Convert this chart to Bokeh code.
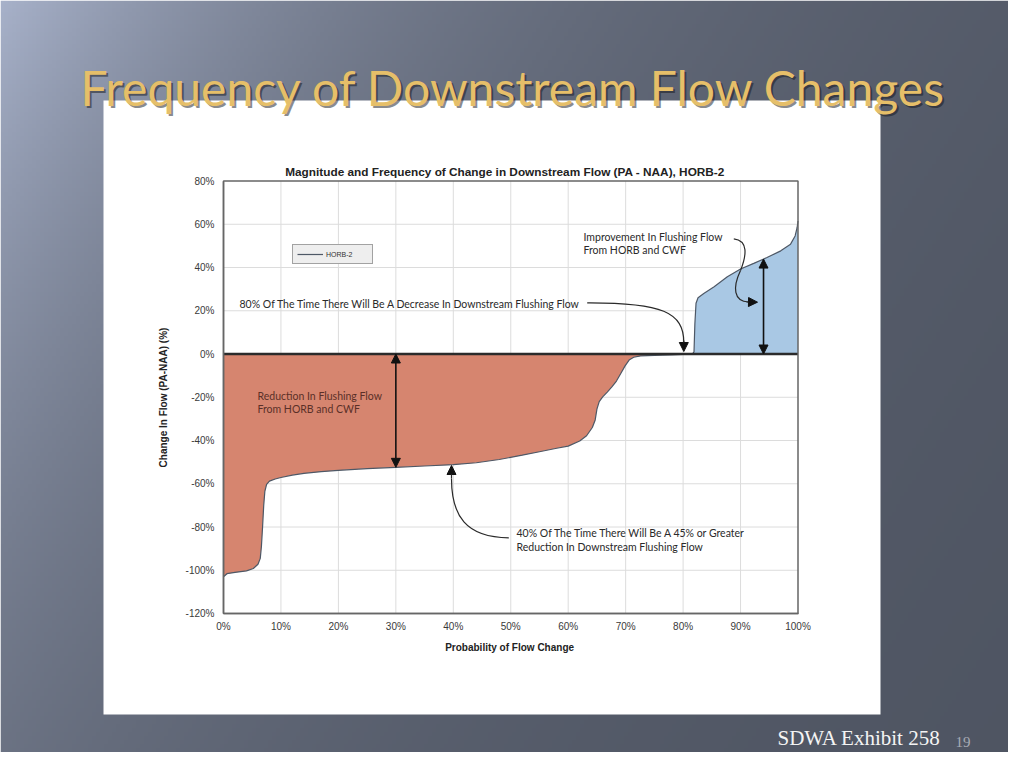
import numpy as np
from bokeh.plotting import figure
from bokeh.models import Range1d, LinearAxis, FixedTicker, Arrow, NormalHead, Legend, LegendItem
from bokeh.core.properties import value
from bokeh.embed import file_html
from bokeh.resources import INLINE

# ---------------- texts & data ----------------
SLIDE_TITLE = "Frequency of Downstream Flow Changes"
CHART_TITLE = "Magnitude and Frequency of Change in Downstream Flow (PA - NAA), HORB-2"
X_LABEL = "Probability of Flow  Change"
Y_LABEL = "Change In Flow (PA-NAA) (%)"
SERIES_NAME = "HORB-2"
FOOTER_TEXT = "SDWA Exhibit 258"
SLIDE_NUMBER = "19"

X_TICKS = [0, 10, 20, 30, 40, 50, 60, 70, 80, 90, 100]
X_TICK_LABELS = ["0%", "10%", "20%", "30%", "40%", "50%", "60%", "70%", "80%", "90%", "100%"]
Y_TICKS = [-120, -100, -80, -60, -40, -20, 0, 20, 40, 60, 80]
Y_TICK_LABELS = ["-120%", "-100%", "-80%", "-60%", "-40%", "-20%", "0%", "20%", "40%", "60%", "80%"]

# probability of flow change (%) and change in flow PA-NAA (%)
PROB = [0.0, 0.6, 2.0, 4.0, 5.2, 6.0, 6.4, 6.6, 6.8, 7.0,
        7.2, 7.5, 8.0, 9.0, 10.0, 12.0, 14.0, 17.0, 20.0, 25.0,
        30.0, 35.0, 40.0, 44.0, 48.0, 52.0, 55.0, 58.0, 60.0, 62.0,
        63.2, 64.2, 64.7, 65.0, 65.4, 66.0, 66.8, 67.6, 68.4, 69.2,
        69.9, 70.6, 71.4, 72.6, 75.0, 78.0, 80.0, 81.6, 81.9, 82.05,
        82.25, 82.6, 83.6, 85.4, 87.7, 90.0, 92.3, 94.6, 97.0, 98.7,
        99.5, 99.85, 100.0]
CHANGE = [-103.0, -101.6, -101.0, -100.3, -99.2, -97.2, -94.5, -89.0, -80.0, -70.0,
          -63.5, -60.3, -58.8, -57.8, -57.1, -56.0, -55.2, -54.4, -53.8, -53.0,
          -52.4, -51.8, -51.2, -50.3, -48.8, -46.8, -45.2, -43.6, -42.6, -40.2,
          -37.8, -34.0, -30.5, -25.5, -22.0, -19.8, -17.6, -15.2, -12.5, -8.8,
          -5.5, -2.8, -1.5, -0.9, -0.6, -0.4, -0.2, 0.0, 1.0, 14.0,
          23.5, 26.0, 28.0, 31.1, 35.7, 39.3, 41.9, 44.6, 47.7, 50.8,
          54.6, 58.5, 61.5]

NOTE_DECREASE = ["80% Of The Time There Will Be A Decrease In Downstream Flushing Flow"]
NOTE_IMPROVE = ["Improvement In Flushing Flow", "From HORB and CWF"]
NOTE_REDUCTION = ["Reduction In Flushing Flow", "From HORB and CWF"]
NOTE_FORTY = ["40% Of The Time There Will Be A 45% or Greater", "Reduction In Downstream Flushing Flow"]
MEASURE_AT = [30, 94]   # probabilities where the double arrows span the change

# ---------------- layout ----------------
W, H = 1008, 752
def gy(page_y):
    return H - page_y   # page y (downwards) -> canvas y (upwards)

CX0, CX1, CY_TOP, CY_BOT = 223.0, 797.5, 180.5, 613.0
sx = (CX1 - CX0) / (X_TICKS[-1] - X_TICKS[0])
sy = (CY_BOT - CY_TOP) / (Y_TICKS[-1] - Y_TICKS[0])

p = figure(width=W, height=H, output_backend="svg", toolbar_location=None,
           x_range=Range1d(0, W), y_range=Range1d(0, H),
           x_axis_type=None, y_axis_type=None, min_border=0)
p.outline_line_color = None
p.extra_x_ranges = {"cx": Range1d(X_TICKS[0] + (0 - CX0) / sx, X_TICKS[0] + (W - CX0) / sx)}
p.extra_y_ranges = {"cy": Range1d(Y_TICKS[-1] - (H - CY_TOP) / sy, Y_TICKS[-1] + CY_TOP / sy)}
C = dict(x_range_name="cx", y_range_name="cy")

# ---- slide background gradient ----
gw, gh = 252, 188
px_ = (np.arange(gw) + 0.5) * W / gw
py_ = H - (np.arange(gh) + 0.5) * H / gh
XX, YY = np.meshgrid(px_, py_)
wgt = np.exp(-(0.8 * XX + 0.5 * YY) / 350.0)
light = np.array([168, 178, 202.0])
dark = np.array([76, 82, 95.0])
rgb = dark + wgt[..., None] * (light - dark)
img = np.empty((gh, gw), dtype=np.uint32)
view = img.view(dtype=np.uint8).reshape((gh, gw, 4))
view[..., 0] = rgb[..., 0].astype(np.uint8)
view[..., 1] = rgb[..., 1].astype(np.uint8)
view[..., 2] = rgb[..., 2].astype(np.uint8)
view[..., 3] = 255
p.image_rgba(image=[img], x=0, y=0, dw=W, dh=H)

# white panel
p.quad(left=103, right=880, top=gy(100), bottom=gy(714), fill_color="#ffffff", line_color=None)

# slide title with shadow
p.text(x=[82], y=[gy(89)], text=[SLIDE_TITLE], text_font=value("Lato"), text_font_size="48px",
       text_color="#15171c", text_alpha=0.5, text_baseline="alphabetic")
p.text(x=[80], y=[gy(86.5)], text=[SLIDE_TITLE], text_font=value("Lato"), text_font_size="48px",
       text_color="#e6bf69", text_baseline="alphabetic")

# footer
p.text(x=[777], y=[gy(737)], text=[FOOTER_TEXT], text_font=value("Liberation Serif"),
       text_font_size="21px", text_color="#f4f4f4", text_baseline="alphabetic")
p.text(x=[955], y=[gy(741)], text=[SLIDE_NUMBER], text_font=value("Liberation Serif"),
       text_font_size="15px", text_color="#a7abb4", text_baseline="alphabetic")

# chart title
p.text(x=[504.5], y=[gy(171)], text=[CHART_TITLE], text_font=value("Liberation Sans"),
       text_font_size="11.8px", text_font_style="bold", text_color="#222222",
       text_align="center", text_baseline="middle")

# ---- chart grid ----
gx = X_TICKS[1:-1]
p.segment(x0=gx, x1=gx, y0=[Y_TICKS[0]] * len(gx), y1=[Y_TICKS[-1]] * len(gx),
          line_color="#dcdcdc", line_width=1, **C)
gyv = Y_TICKS[1:-1]
p.segment(x0=[X_TICKS[0]] * len(gyv), x1=[X_TICKS[-1]] * len(gyv), y0=gyv, y1=gyv,
          line_color="#dcdcdc", line_width=1, **C)

# ---- areas ----
ch = np.array(CHANGE)
p.varea(x=PROB, y1=np.minimum(ch, 0), y2=0, fill_color="#d6856f", **C)
p.varea(x=PROB, y1=0, y2=np.maximum(ch, 0), fill_color="#a9c8e4", **C)
series = p.line(PROB, CHANGE, line_color="#4e5866", line_width=1.2, **C)

# zero line
p.segment(x0=[X_TICKS[0]], x1=[X_TICKS[-1]], y0=[0], y1=[0], line_color="#2b2b2b", line_width=2.6, **C)

# frame
p.quad(left=X_TICKS[0], right=X_TICKS[-1], bottom=Y_TICKS[0], top=Y_TICKS[-1],
       fill_alpha=0, line_color="#666666", line_width=1.5, **C)

# ---- axes ----
xax = LinearAxis(fixed_location=Y_TICKS[0], bounds=(X_TICKS[0], X_TICKS[-1]),
                 ticker=FixedTicker(ticks=X_TICKS),
                 major_label_overrides={t: l for t, l in zip(X_TICKS, X_TICK_LABELS)},
                 axis_label=X_LABEL, **C)
yax = LinearAxis(fixed_location=X_TICKS[0], bounds=(Y_TICKS[0], Y_TICKS[-1]),
                 ticker=FixedTicker(ticks=Y_TICKS),
                 major_label_overrides={t: l for t, l in zip(Y_TICKS, Y_TICK_LABELS)},
                 axis_label=Y_LABEL, **C)
for ax in (xax, yax):
    ax.axis_line_color = "#666666"
    ax.axis_line_width = 1.5
    ax.major_tick_in = 0
    ax.major_tick_out = 0
    ax.minor_tick_in = 0
    ax.minor_tick_out = 0
    ax.major_label_text_font = "Liberation Sans"
    ax.major_label_text_font_size = "10px"
    ax.major_label_text_color = "#3a3a3a"
    ax.axis_label_text_font = "Liberation Sans"
    ax.axis_label_text_font_size = "10px"
    ax.axis_label_text_font_style = "bold"
    ax.axis_label_text_color = "#222222"
xax.major_label_standoff = 7
xax.axis_label_standoff = 7
yax.major_label_standoff = 9
yax.axis_label_standoff = 14
p.add_layout(xax, "below")
p.add_layout(yax, "left")

# legend
legend = Legend(items=[LegendItem(label=SERIES_NAME, renderers=[series])],
                location=(292, gy(264)), margin=0, padding=4,
                glyph_width=26, glyph_height=10, label_height=10, label_width=42,
                label_standoff=3, label_text_font="Liberation Sans", label_text_font_size="7px",
                label_text_color="#333333", background_fill_color="#eeeeee",
                background_fill_alpha=1.0, border_line_color="#555555", border_line_width=1)
p.add_layout(legend)

# ---- annotation texts ----
AF = value("Lato")
p.text(x=[239], y=[gy(303)], text=NOTE_DECREASE, text_font=AF, text_font_size="10.5px",
       text_color="#2a2a2a", text_baseline="middle")
p.text(x=[583, 583], y=[gy(236), gy(249.5)], text=NOTE_IMPROVE, text_font=AF,
       text_font_size="10.5px", text_color="#2a2a2a", text_baseline="middle")
p.text(x=[257, 257], y=[gy(395), gy(408.5)], text=NOTE_REDUCTION, text_font=AF,
       text_font_size="10.5px", text_color="#5a3028", text_baseline="middle")
p.text(x=[516, 516], y=[gy(532), gy(546)], text=NOTE_FORTY, text_font=AF,
       text_font_size="10.5px", text_color="#2a2a2a", text_baseline="middle")

# ---- callout curves (page coordinates) ----
LC = "#2a2a2a"
p.bezier(x0=[586.7], y0=[gy(302.3)], x1=[683.3], y1=[gy(342)],
         cx0=[662], cy0=[gy(302)], cx1=[683.3], cy1=[gy(312)], line_color=LC, line_width=1.2)
p.bezier(x0=[733.3, 740], y0=[gy(238.3), gy(270)], x1=[740, 748], y1=[gy(270), gy(301.5)],
         cx0=[748, 732], cy0=[gy(240), gy(287)], cx1=[746, 733], cy1=[gy(255), gy(301)],
         line_color=LC, line_width=1.2)
p.bezier(x0=[508.3], y0=[gy(537.3)], x1=[451], y1=[gy(478)],
         cx0=[465], cy0=[gy(537)], cx1=[451], cy1=[gy(515)], line_color=LC, line_width=1.2)

def head():
    return NormalHead(size=9, fill_color="#111111", line_color="#111111", line_width=1)

p.add_layout(Arrow(end=head(), x_start=683.3, y_start=gy(340), x_end=683.3, y_end=gy(351),
                   line_color=LC, line_width=1.2))
p.add_layout(Arrow(end=head(), x_start=746, y_start=gy(301.5), x_end=757, y_end=gy(301.7),
                   line_color=LC, line_width=1.2))
p.add_layout(Arrow(end=head(), x_start=451, y_start=gy(478), x_end=451, y_end=gy(465),
                   line_color=LC, line_width=1.2))

# double arrows measuring the change (chart coordinates)
for xm in MEASURE_AT:
    yv = float(np.interp(xm, PROB, CHANGE))
    p.add_layout(Arrow(start=head(), end=head(), x_start=xm, y_start=0, x_end=xm, y_end=yv,
                       line_color="#111111", line_width=1.6, **C))

open("out.html", "w").write(file_html(p, INLINE))
